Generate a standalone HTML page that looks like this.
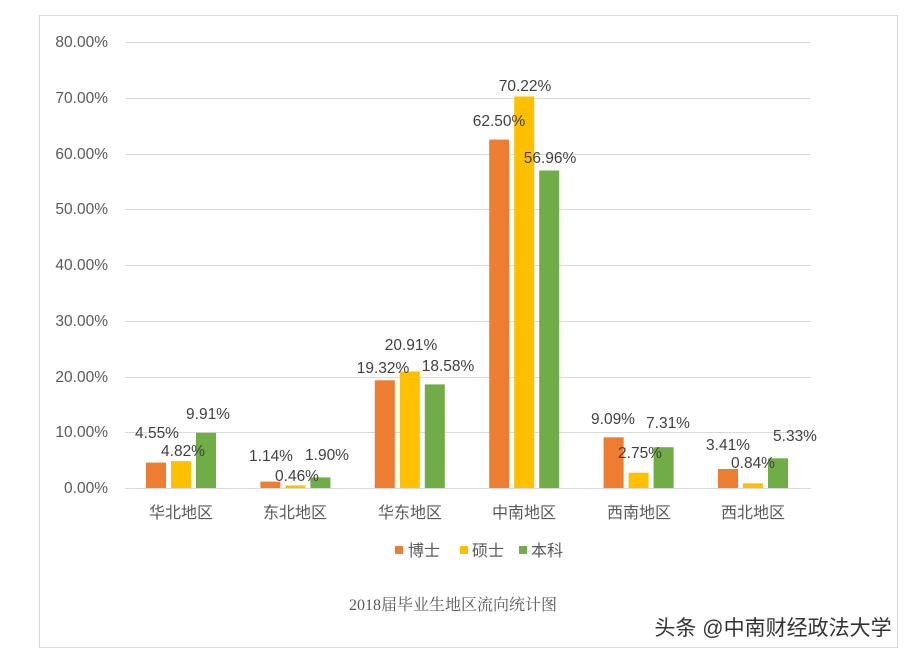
<!DOCTYPE html>
<html><head><meta charset="utf-8"><style>
html,body{margin:0;padding:0;background:#fff;}
svg{display:block;font-family:"Liberation Sans","Noto Sans CJK SC",sans-serif;}
</style></head><body>
<svg width="922" height="658" viewBox="0 0 922 658" xmlns="http://www.w3.org/2000/svg">
<rect x="0" y="0" width="922" height="658" fill="#fff"/>
<rect x="39.5" y="15.5" width="858" height="632" fill="#fff" stroke="#d9d9d9" stroke-width="1"/>
<g stroke="#d9d9d9" stroke-width="1">
<line x1="125" y1="42.5" x2="811" y2="42.5"/>
<line x1="125" y1="98.5" x2="811" y2="98.5"/>
<line x1="125" y1="154.5" x2="811" y2="154.5"/>
<line x1="125" y1="209.5" x2="811" y2="209.5"/>
<line x1="125" y1="265.5" x2="811" y2="265.5"/>
<line x1="125" y1="321.5" x2="811" y2="321.5"/>
<line x1="125" y1="377.5" x2="811" y2="377.5"/>
<line x1="125" y1="432.5" x2="811" y2="432.5"/>
<line x1="125" y1="488.5" x2="811" y2="488.5"/>
</g>
<g font-size="15.5" fill="#595959" text-anchor="end">
<text x="108" y="47">80.00%</text>
<text x="108" y="103">70.00%</text>
<text x="108" y="159">60.00%</text>
<text x="108" y="214">50.00%</text>
<text x="108" y="270">40.00%</text>
<text x="108" y="326">30.00%</text>
<text x="108" y="382">20.00%</text>
<text x="108" y="437">10.00%</text>
<text x="108" y="493">0.00%</text>
</g>
<g>
<rect x="146" y="462.6" width="20" height="25.4" fill="#ed7d31"/>
<rect x="171" y="461.1" width="20" height="26.9" fill="#ffc000"/>
<rect x="196" y="432.8" width="20" height="55.2" fill="#70ad47"/>

<rect x="260.4" y="481.6" width="20" height="6.4" fill="#ed7d31"/>
<rect x="285.4" y="485.4" width="20" height="2.6" fill="#ffc000"/>
<rect x="310.4" y="477.4" width="20" height="10.6" fill="#70ad47"/>

<rect x="374.8" y="380.3" width="20" height="107.7" fill="#ed7d31"/>
<rect x="399.8" y="371.4" width="20" height="116.6" fill="#ffc000"/>
<rect x="424.8" y="384.4" width="20" height="103.6" fill="#70ad47"/>

<rect x="489.2" y="139.6" width="20" height="348.4" fill="#ed7d31"/>
<rect x="514.2" y="96.5" width="20" height="391.5" fill="#ffc000"/>
<rect x="539.2" y="170.5" width="20" height="317.5" fill="#70ad47"/>

<rect x="603.6" y="437.3" width="20" height="50.7" fill="#ed7d31"/>
<rect x="628.6" y="472.7" width="20" height="15.3" fill="#ffc000"/>
<rect x="653.6" y="447.2" width="20" height="40.8" fill="#70ad47"/>

<rect x="718" y="469" width="20" height="19" fill="#ed7d31"/>
<rect x="743" y="483.3" width="20" height="4.7" fill="#ffc000"/>
<rect x="768" y="458.3" width="20" height="29.7" fill="#70ad47"/>
</g>
<g font-size="15.5" fill="#404040" text-anchor="middle">
<text x="157" y="438">4.55%</text>
<text x="183" y="456">4.82%</text>
<text x="208" y="419">9.91%</text>
<text x="271" y="461">1.14%</text>
<text x="297" y="481">0.46%</text>
<text x="327" y="460">1.90%</text>
<text x="383" y="373">19.32%</text>
<text x="411" y="350">20.91%</text>
<text x="448" y="371">18.58%</text>
<text x="499" y="126">62.50%</text>
<text x="525" y="91">70.22%</text>
<text x="550" y="163">56.96%</text>
<text x="613" y="424">9.09%</text>
<text x="640" y="458">2.75%</text>
<text x="668" y="428">7.31%</text>
<text x="728" y="450">3.41%</text>
<text x="753" y="468">0.84%</text>
<text x="795" y="441">5.33%</text>
</g>
<g font-size="16" fill="#595959" text-anchor="middle">
<text x="181" y="518">华北地区</text>
<text x="295" y="518">东北地区</text>
<text x="410" y="518">华东地区</text>
<text x="524" y="518">中南地区</text>
<text x="639" y="518">西南地区</text>
<text x="753" y="518">西北地区</text>
</g>
<g font-size="16" fill="#595959">
<rect x="395" y="546" width="8" height="8" fill="#ed7d31"/>
<text x="408" y="556">博士</text>
<rect x="460" y="546" width="8" height="8" fill="#ffc000"/>
<text x="472" y="556">硕士</text>
<rect x="519" y="546" width="8" height="8" fill="#70ad47"/>
<text x="531" y="556">本科</text>
</g>
<text x="453" y="610" font-size="16" fill="#595959" text-anchor="middle" font-family="'Liberation Serif','Noto Serif CJK SC',serif">2018届毕业生地区流向统计图</text>
<text x="773" y="635" font-size="21" fill="#333" text-anchor="middle">头条 @中南财经政法大学</text>
</svg>
</body></html>
